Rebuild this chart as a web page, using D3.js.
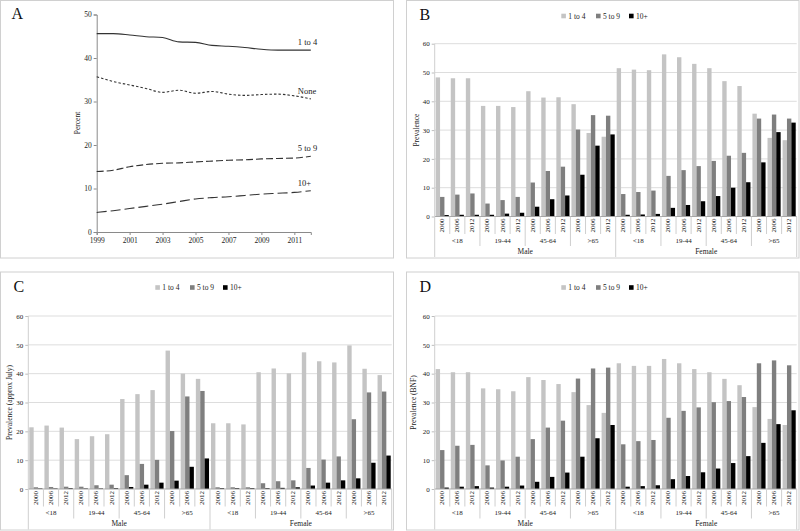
<!DOCTYPE html>
<html><head><meta charset="utf-8">
<script src="https://cdn.jsdelivr.net/npm/d3@7"></script>
<style>
body{margin:0;background:#fff;}
svg{display:block;font-family:"Liberation Serif","Times New Roman",serif;}
</style>
</head><body>
<svg id="chart" width="800" height="531"></svg>
<script>
// ---------- Panel A data ----------
const lineYears = [1999,2000,2001,2002,2003,2004,2005,2006,2007,2008,2009,2010,2011,2012];
const lineOneToFour = [45.6,45.6,45.3,44.9,44.7,43.7,43.6,42.9,42.7,42.4,42.0,41.8,41.8,41.8];
const lineNone = [35.7,34.6,33.8,33.0,32.1,32.6,31.9,32.3,31.7,31.4,31.6,31.7,31.3,30.6];
const lineFiveToNine = [13.9,14.2,15.0,15.5,15.8,15.9,16.1,16.3,16.5,16.6,16.8,16.9,17.0,17.4];
const lineTenPlus = [4.5,4.9,5.4,5.9,6.4,7.0,7.6,7.9,8.1,8.4,8.7,8.9,9.1,9.5];
const lineNames = ["1 to 4","None","5 to 9","10+"];
const lineTickYears = [1999,2001,2003,2005,2007,2009,2011];
const lineTickValues = [0,10,20,30,40,50];

// ---------- Bar panels data ----------
const sexes = ["Male","Female"];
const ageGroups = ["<18","19-44","45-64",">65"];
const surveyYears = ["2000","2006","2012"];
const seriesNames = ["1 to 4","5 to 9","10+"];
const barTickValues = [0,10,20,30,40,50,60];

// order: Male <18 (2000,2006,2012), Male 19-44, Male 45-64, Male >65, Female <18, ...
const bOneToFour = [48.3,48.0,48.0, 38.4,38.4,38.0, 43.5,41.3,41.4, 39.0,29.0,27.7, 51.5,51.0,50.8, 56.3,55.3,53.0, 51.5,47.0,45.3, 35.7,27.3,26.5];
const bFiveToNine = [6.8,7.6,8.0, 4.5,5.7,6.8, 11.8,15.8,17.3, 30.2,35.2,35.0, 7.8,8.5,9.0, 14.1,16.1,17.5, 19.3,21.1,22.1, 34.0,35.4,34.0];
const bTenPlus = [0.5,0.6,0.6, 0.6,1.0,1.3, 3.4,6.0,7.3, 14.5,24.6,28.5, 0.6,0.7,0.9, 3.0,4.0,5.3, 7.1,10.0,11.9, 18.8,29.3,32.6];

const cOneToFour = [21.4,22.0,21.3, 17.3,18.3,19.0, 31.2,32.9,34.3, 48.0,40.0,38.2, 22.8,22.8,22.4, 40.5,41.8,40.1, 47.4,44.3,43.9, 49.8,41.7,39.5];
const cFiveToNine = [0.6,0.7,0.8, 0.8,1.3,1.5, 4.8,8.7,10.1, 20.1,32.1,34.0, 0.6,0.6,0.6, 2.0,2.7,3.0, 7.3,10.2,11.3, 24.2,33.5,33.8];
const cTenPlus = [0.2,0.2,0.3, 0.2,0.2,0.3, 0.7,1.5,2.2, 2.9,7.7,10.6, 0.3,0.3,0.3, 0.3,0.4,0.6, 1.2,2.2,3.0, 3.7,9.1,11.6];

const dOneToFour = [41.6,40.5,40.5, 34.9,34.6,33.9, 38.8,37.8,36.4, 33.6,29.1,26.4, 43.6,42.7,42.7, 45.1,43.6,41.6, 40.5,38.2,36.0, 28.4,24.3,22.2];
const dFiveToNine = [13.5,15.0,15.3, 8.2,9.9,11.2, 17.3,21.3,23.7, 38.3,41.8,42.1, 15.5,16.6,17.0, 24.7,27.1,28.3, 30.1,30.5,31.9, 43.6,44.6,42.9];
const dTenPlus = [0.5,0.8,1.0, 0.5,0.8,1.2, 2.5,4.2,5.7, 11.2,17.6,22.2, 0.8,1.0,1.3, 3.4,4.5,5.8, 7.1,9.0,11.4, 16.0,22.5,27.3];

const svg = d3.select("#chart");
const frameColor = "#d0d0d0";
const textColor = "#222";

function frame(x, y, w, h) {
  svg.append("rect").attr("x", x).attr("y", y).attr("width", w).attr("height", h)
    .attr("fill", "none").attr("stroke", frameColor).attr("stroke-width", 1);
}
function panelLabel(t, x, y) {
  svg.append("text").attr("x", x).attr("y", y).attr("font-size", 16).attr("fill", "#111").text(t);
}

// ---------------- Panel A ----------------
frame(0.5, 0.5, 393, 257.5);
panelLabel("A", 11.5, 19);
{
  const x = d3.scaleLinear().domain([1999, 2012]).range([96.7, 310.8]);
  const y = d3.scaleLinear().domain([0, 50]).range([232, 14.5]);
  const g = svg.append("g");
  const ya = g.append("g").attr("transform", "translate(96.7,0)")
    .call(d3.axisLeft(y).tickValues(lineTickValues).tickSize(3).tickPadding(2));
  const xa = g.append("g").attr("transform", "translate(0,232)")
    .call(d3.axisBottom(x).tickValues(lineTickYears).tickFormat(d3.format("d")).tickSize(3).tickPadding(3));
  [ya, xa].forEach(a => {
    a.select(".domain").attr("stroke", "#8a8a8a");
    a.selectAll(".tick line").attr("stroke", "#8a8a8a");
    a.selectAll("text").attr("font-family", "Liberation Serif").attr("font-size", 7.5).attr("fill", textColor);
  });
  g.append("text").attr("transform", "translate(80,123) rotate(-90)")
    .attr("text-anchor", "middle").attr("font-size", 7.5).attr("fill", textColor).text("Percent");

  const series = [
    {name: lineNames[0], vals: lineOneToFour, dash: null},
    {name: lineNames[1], vals: lineNone, dash: "2.5,2"},
    {name: lineNames[2], vals: lineFiveToNine, dash: "7,3"},
    {name: lineNames[3], vals: lineTenPlus, dash: "10,4"}
  ];
  const line = d3.line().x((d, i) => x(lineYears[i])).y(d => y(d)).curve(d3.curveMonotoneX);
  series.forEach(s => {
    g.append("path").attr("d", line(s.vals)).attr("fill", "none")
      .attr("stroke", "#333").attr("stroke-width", 1.1)
      .attr("stroke-dasharray", s.dash);
    g.append("text").attr("x", x(2011) + 3.5).attr("y", y(s.vals[s.vals.length - 1]) - 5)
      .attr("font-size", 8.5).attr("fill", textColor).text(s.name);
  });
}

// ---------------- Bar panels ----------------
const barColors = ["#c4c4c4", "#7f7f7f", "#000000"];

function barPanel(opts) {
  const {fx, fy, fw, fh, label, left, right, top, bottom, title, titleX, vals} = opts;
  frame(fx, fy, fw, fh);
  panelLabel(label, fx + 13, fy + 19.5);
  const g = svg.append("g");

  // legend
  const lg = g.append("g").attr("transform", `translate(${fx + 154.8},${fy + 15.5})`);
  const legendOffsets = [0, 34.7, 67.7];
  seriesNames.forEach((n, i) => {
    lg.append("rect").attr("x", legendOffsets[i]).attr("y", -2.3).attr("width", 4.6).attr("height", 4.6).attr("fill", barColors[i]);
    lg.append("text").attr("x", legendOffsets[i] + 7).attr("y", 2.6).attr("font-size", 7.5).attr("fill", textColor).text(n);
  });

  const keys = [];
  sexes.forEach(s => ageGroups.forEach(a => surveyYears.forEach(yv => keys.push(s + "|" + a + "|" + yv))));
  const x0 = d3.scaleBand().domain(keys).range([left, right]).paddingInner(0.13).paddingOuter(0.065);
  const x1 = d3.scaleBand().domain(seriesNames).range([0, x0.bandwidth()]);
  const y = d3.scaleLinear().domain([0, 60]).range([bottom, top]);
  const step = x0.step();

  // gridlines
  g.append("g").selectAll("line").data(barTickValues.filter(v => v > 0)).join("line")
    .attr("x1", left).attr("x2", right).attr("y1", d => y(d)).attr("y2", d => y(d))
    .attr("stroke", "#d9d9d9").attr("stroke-width", 0.9);

  // y axis (ticks + labels)
  const ya = g.append("g").attr("transform", `translate(${left},0)`)
    .call(d3.axisLeft(y).tickValues(barTickValues).tickSize(3).tickPadding(2));
  ya.select(".domain").remove();
  ya.selectAll(".tick line").attr("stroke", "#bdbdbd");
  ya.selectAll("text").attr("font-family", "Liberation Serif").attr("font-size", 7).attr("fill", textColor);

  g.append("text").attr("transform", `translate(${titleX},${(top + bottom) / 2}) rotate(-90)`)
    .attr("text-anchor", "middle").attr("font-size", 7.5).attr("fill", textColor).text(title);

  // bars
  keys.forEach((k, i) => {
    seriesNames.forEach((s, j) => {
      const v = vals[j][i];
      g.append("rect").attr("x", x0(k) + x1(s)).attr("y", y(v))
        .attr("width", x1.bandwidth()).attr("height", y(0) - y(v)).attr("fill", barColors[j]);
    });
  });

  // category axis
  const y0 = y(0);
  g.append("line").attr("x1", left).attr("x2", right).attr("y1", y0).attr("y2", y0).attr("stroke", "#a6a6a6");
  const sepColor = "#cfcfcf";
  // year separators
  for (let i = 1; i < keys.length; i++) {
    const xx = left + i * step;
    const len = (i % 12 === 0) ? 40.5 : (i % 3 === 0 ? 29.5 : 17.5);
    g.append("line").attr("x1", xx).attr("x2", xx).attr("y1", y0).attr("y2", y0 + len).attr("stroke", sepColor);
  }
  // left axis line + right end
  g.append("line").attr("x1", left).attr("x2", left).attr("y1", top).attr("y2", y0 + 40.5).attr("stroke", sepColor);
  g.append("line").attr("x1", right).attr("x2", right).attr("y1", y0).attr("y2", y0 + 40.5).attr("stroke", sepColor);

  // year labels
  keys.forEach(k => {
    const cx = x0(k) + x0.bandwidth() / 2;
    g.append("text").attr("transform", `translate(${cx},${y0 + 9}) rotate(-90)`)
      .attr("text-anchor", "middle").attr("dominant-baseline", "central")
      .attr("font-size", 7).attr("fill", textColor).text(k.split("|")[2]);
  });
  // age labels
  sexes.forEach((s, si) => ageGroups.forEach((a, ai) => {
    const idx = si * 12 + ai * 3;
    const cx = left + (idx + 1.5) * step;
    g.append("text").attr("x", cx).attr("y", y0 + 26.3).attr("text-anchor", "middle")
      .attr("font-size", 7).attr("fill", textColor).text(a);
  }));
  // sex labels
  sexes.forEach((s, si) => {
    const cx = left + (si * 12 + 6) * step;
    g.append("text").attr("x", cx).attr("y", y0 + 37.2).attr("text-anchor", "middle")
      .attr("font-size", 7.5).attr("fill", textColor).text(s);
  });
}

barPanel({fx: 406.5, fy: 0.5, fw: 392.5, fh: 257.5, label: "B", left: 434.7, right: 796.7, top: 43.7, bottom: 216.5,
  title: "Prevalence", titleX: 418.5, vals: [bOneToFour, bFiveToNine, bTenPlus]});
barPanel({fx: 0.5, fy: 272, fw: 393, fh: 258, label: "C", left: 28.3, right: 391.7, top: 316, bottom: 489,
  title: "Prevalence (approx July)", titleX: 12, vals: [cOneToFour, cFiveToNine, cTenPlus]});
barPanel({fx: 406.5, fy: 272, fw: 392.5, fh: 258, label: "D", left: 434.7, right: 796.7, top: 316, bottom: 489,
  title: "Prevalence (BNF)", titleX: 415.5, vals: [dOneToFour, dFiveToNine, dTenPlus]});
</script>
</body></html>
